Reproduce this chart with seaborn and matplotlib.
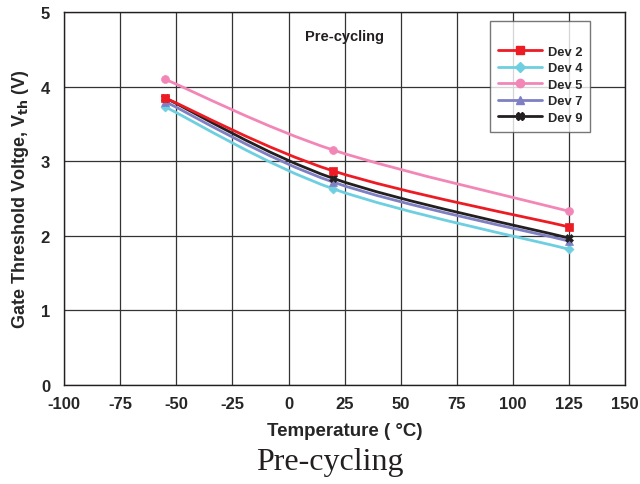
import numpy as np
import pandas as pd
import seaborn as sns
import matplotlib
matplotlib.use("Agg")
import matplotlib.pyplot as plt
from matplotlib.path import Path
from matplotlib.patches import PathPatch
from matplotlib.lines import Line2D

temps = [-55, 20, 125]
dev2 = [3.85, 2.87, 2.12]
dev4 = [3.73, 2.63, 1.82]
dev5 = [4.10, 3.15, 2.33]
dev7 = [3.80, 2.72, 1.93]
dev9 = [3.85, 2.77, 1.97]
names = ["Dev 2", "Dev 4", "Dev 5", "Dev 7", "Dev 9"]
series = [dev2, dev4, dev5, dev7, dev9]
colors = ["#ED1C24", "#6DCFDF", "#F287B7", "#7F7FC4", "#231F20"]
markers = ["s", "D", "o", "^", "X"]
msizes = [5, 4, 5, 5, 5]

sns.set_theme(style="white")
plt.rcParams['font.family'] = ['Liberation Sans', 'DejaVu Sans']
plt.rcParams['axes.unicode_minus'] = False

fig = plt.figure(figsize=(6.4, 4.85), dpi=100)
ax = fig.add_axes([0.1, 0.204, 0.877, 0.769])

rows = []
for n, s in zip(names, series):
    for t, v in zip(temps, s):
        rows.append({"Temp": t, "Vth": v, "Dev": n})
df = pd.DataFrame(rows)

def smooth_path(xs, ys):
    pts = list(zip(xs, ys))
    verts = [pts[0]]
    codes = [Path.MOVETO]
    n = len(pts)
    for i in range(n - 1):
        p0 = pts[i - 1] if i > 0 else pts[i]
        p1 = pts[i]
        p2 = pts[i + 1]
        p3 = pts[i + 2] if i + 2 < n else pts[i + 1]
        c1 = (p1[0] + (p2[0] - p0[0]) / 6, p1[1] + (p2[1] - p0[1]) / 6)
        c2 = (p2[0] - (p3[0] - p1[0]) / 6, p2[1] - (p3[1] - p1[1]) / 6)
        verts += [c1, c2, p2]
        codes += [Path.CURVE4] * 3
    return Path(verts, codes)

order = [1, 3, 4, 0, 2]
for i in order:
    ax.add_patch(PathPatch(smooth_path(temps, series[i]), facecolor="none",
                           edgecolor=colors[i], lw=2.0, zorder=3))
for i in order:
    sub = df[df["Dev"] == names[i]]
    sns.scatterplot(data=sub, x="Temp", y="Vth", ax=ax, color=colors[i],
                    marker=markers[i], s=msizes[i] ** 2 * 1.3, edgecolor=colors[i],
                    linewidth=0.5, zorder=4, legend=False)

ax.set_xlim(-100, 150)
ax.set_ylim(0, 5)
ax.set_xticks(np.arange(-100, 151, 25))
ax.set_yticks(np.arange(0, 6, 1))
ax.grid(True, color="#333333", lw=0.9)
ax.set_axisbelow(True)
for sp in ax.spines.values():
    sp.set_color("#231F20")
    sp.set_linewidth(1.0)
ax.tick_params(axis="x", labelsize=12, length=0, pad=8)
ax.tick_params(axis="y", labelsize=12, length=0, pad=10)
for lab in ax.get_xticklabels() + ax.get_yticklabels():
    lab.set_fontweight("bold")
ax.set_xlabel("Temperature ( °C)", fontsize=13.5, fontweight="bold", labelpad=8)
ax.set_ylabel("Gate Threshold Voltge, V$_{\\mathbf{th}}$ (V)", fontsize=13,
              fontweight="bold", labelpad=7)
ax.text(25, 4.68, "Pre-cycling", ha="center", va="center", fontsize=10.5,
        fontweight="bold", color="#231F20")

handles = [Line2D([0], [0], color=c, lw=2.0, marker=m, markersize=ms + 1,
                  markerfacecolor=c, markeredgecolor=c)
           for c, m, ms in zip(colors, markers, msizes)]
leg = ax.legend(handles, names, loc="upper right", bbox_to_anchor=(0.9376, 0.975),
                prop={"weight": "bold", "size": 9.3}, frameon=True, fancybox=False,
                edgecolor="#555555", handlelength=3.4, borderpad=0.6,
                labelspacing=0.35, borderaxespad=0, handletextpad=0.5,
                title=" ", title_fontsize=9)
leg.get_frame().set_linewidth(1.0)

fig.text(0.515, 0.047, "Pre-cycling", ha="center", va="center", fontsize=23,
         family="Liberation Serif", color="#231F20")

fig.savefig("out.png", dpi=100)
